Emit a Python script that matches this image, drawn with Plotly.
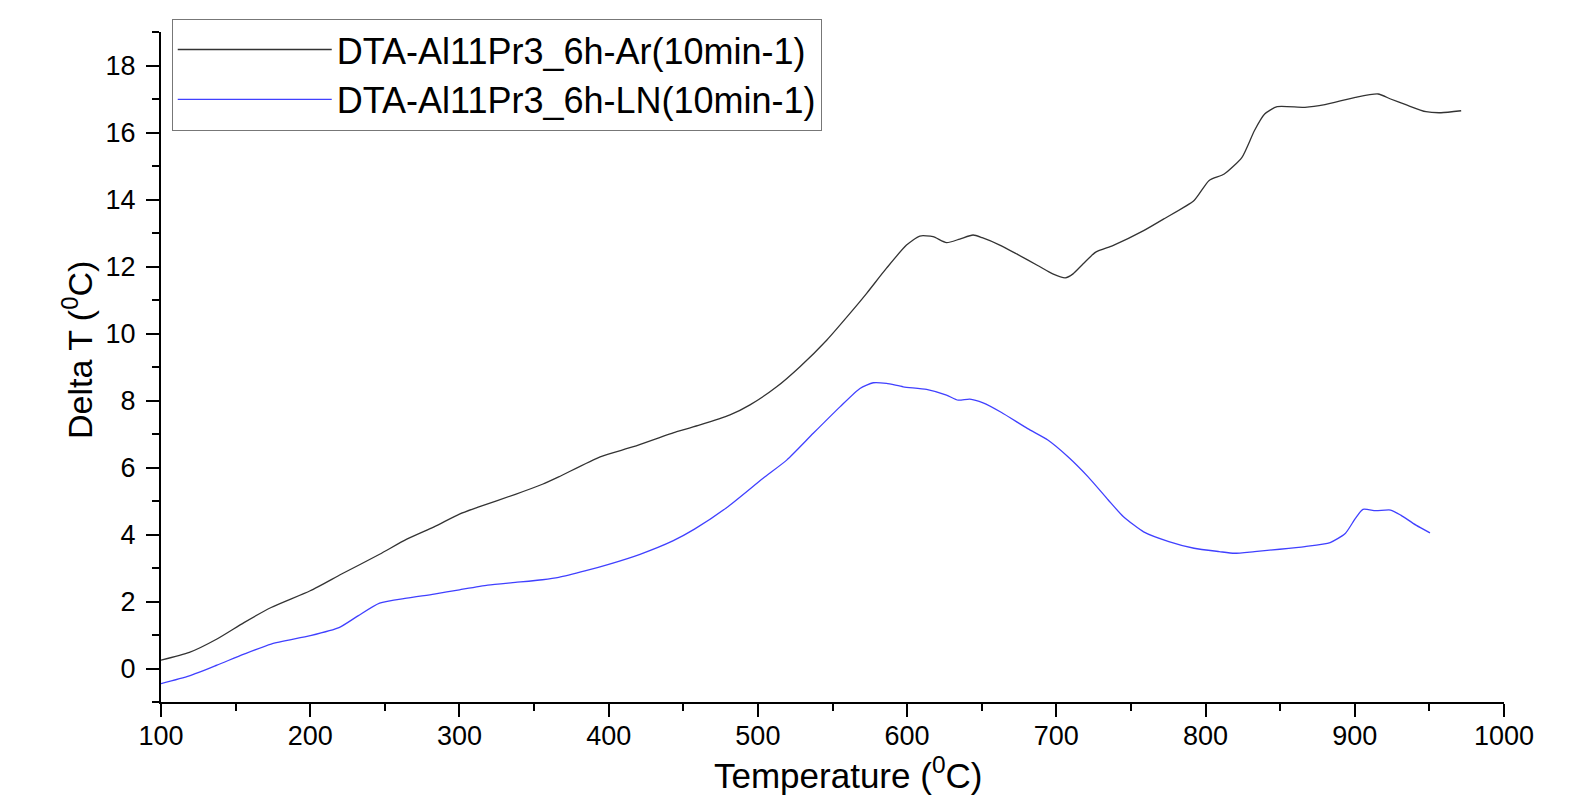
import plotly.graph_objects as go

# Temperature (°C) and Delta T (°C)
ar_temp = [100, 119, 137.5, 155.6, 173.8, 200, 221, 246.5, 264.7, 283, 300, 312, 337.5, 355.6,
           366.5, 394.3, 416.6, 445.6, 461.2, 481.3, 494.7, 512.6, 528.2, 546.1, 561.7, 572.9,
           586.2, 599.6, 608.5, 617.4, 626.4, 635.3, 644.2, 650.3, 662.1, 674, 687.5, 697.6, 706,
           711.2, 718, 726.4, 738.2, 758.5, 772, 792.3, 802.4, 812.5, 824.4, 832.8, 839.6, 848,
           866.6, 880, 900.4, 915.6, 924, 934.2, 947.7, 957.8, 971.3]
ar_dT = [0.25, 0.48, 0.88, 1.37, 1.82, 2.32, 2.82, 3.41, 3.86, 4.23, 4.61, 4.81, 5.2, 5.5,
         5.72, 6.32, 6.62, 7.07, 7.27, 7.57, 7.87, 8.41, 9.01, 9.8, 10.6, 11.2,
         11.95, 12.64, 12.91, 12.89, 12.71, 12.82, 12.94, 12.86, 12.64, 12.36, 12.03, 11.78, 11.66,
         11.78, 12.08, 12.43, 12.63, 13.07, 13.42, 13.97, 14.57, 14.76, 15.26, 16.06, 16.55, 16.77,
         16.75, 16.83, 17.05, 17.15, 17.0, 16.83, 16.62, 16.59, 16.65]

ln_temp = [100, 119, 137.5, 155.6, 173.8, 200, 219.3, 232, 246.5, 264.7, 283, 300, 319, 337.5,
           355.6, 366.5, 384.7, 400, 421, 443, 457.5, 479, 503.5, 519.3, 537.1, 555, 568.4,
           577.3, 586.2, 597.4, 613, 626.4, 634.2, 642, 650.9, 663, 680.8, 694.3, 707.8, 721.3,
           734.8, 745, 758.5, 775.4, 792.3, 809.2, 819.3, 832.8, 849.7, 866.6, 883.5, 893.6, 900.4,
           905.5, 914, 924, 930.8, 941, 950.4]
ln_dT = [-0.45, -0.22, 0.1, 0.43, 0.73, 0.98, 1.22, 1.57, 1.95, 2.1, 2.22, 2.35, 2.49, 2.57,
         2.65, 2.72, 2.92, 3.11, 3.41, 3.81, 4.16, 4.8, 5.68, 6.22, 7.02, 7.81, 8.36,
         8.53, 8.51, 8.41, 8.33, 8.16, 8.01, 8.04, 7.93, 7.65, 7.16, 6.82, 6.32, 5.72,
         5.03, 4.53, 4.08, 3.79, 3.59, 3.49, 3.44, 3.49, 3.56, 3.64, 3.76, 4.03, 4.48,
         4.75, 4.71, 4.73, 4.58, 4.28, 4.05]

series_names = ["DTA-Al11Pr3_6h-Ar(10min-1)", "DTA-Al11Pr3_6h-LN(10min-1)"]
x_title = "Temperature (<sup>0</sup>C)"
y_title = "Delta T (<sup>0</sup>C)"

FONT = "Arial, 'Liberation Sans', sans-serif"

fig = go.Figure()
fig.add_trace(go.Scatter(x=ar_temp, y=ar_dT, mode="lines", name=series_names[0],
                         line=dict(color="#333333", width=1.3, shape="spline", smoothing=0.6)))
fig.add_trace(go.Scatter(x=ln_temp, y=ln_dT, mode="lines", name=series_names[1],
                         line=dict(color="#4040ff", width=1.3, shape="spline", smoothing=0.6)))

axis_common = dict(
    showline=True, linecolor="black", linewidth=2, mirror=False,
    showgrid=False, zeroline=False,
    ticks="outside", ticklen=13, tickwidth=2, tickcolor="black",
    tickfont=dict(family=FONT, size=27, color="black"),
)

fig.update_xaxes(
    range=[100, 1000], tick0=100, dtick=100,
    minor=dict(ticks="outside", ticklen=7, tickwidth=2, tickcolor="black", dtick=50),
    ticklabelstandoff=-4,
    **axis_common,
)
fig.update_yaxes(
    range=[-1, 19], tick0=0, dtick=2,
    minor=dict(ticks="outside", ticklen=7, tickwidth=2, tickcolor="black", dtick=1),
    ticklabelstandoff=5,
    **axis_common,
)

# axis titles as annotations (positioned like the reference)
fig.add_annotation(text=x_title, xref="paper", yref="paper", x=0.5, y=0,
                   xanchor="center", yanchor="middle", xshift=15, yshift=-71,
                   showarrow=False, font=dict(family=FONT, size=35, color="black"))
fig.add_annotation(text=y_title, xref="paper", yref="paper", x=0, y=0.5,
                   xanchor="center", yanchor="middle", xshift=-84, yshift=17, textangle=-90,
                   showarrow=False, font=dict(family=FONT, size=34, color="black"))

fig.update_layout(
    width=1583, height=787,
    margin=dict(l=153, r=87, t=24, b=93, autoexpand=False),
    plot_bgcolor="white", paper_bgcolor="white",
    font=dict(family=FONT, color="black"),
    legend=dict(
        x=0.008, y=1.02, xanchor="left", yanchor="top",
        bordercolor="#777777", borderwidth=1, bgcolor="white",
        font=dict(family=FONT, size=36, color="black"),
        itemwidth=154, tracegroupgap=0,
    ),
    showlegend=True,
)

fig.write_html("out.html")
